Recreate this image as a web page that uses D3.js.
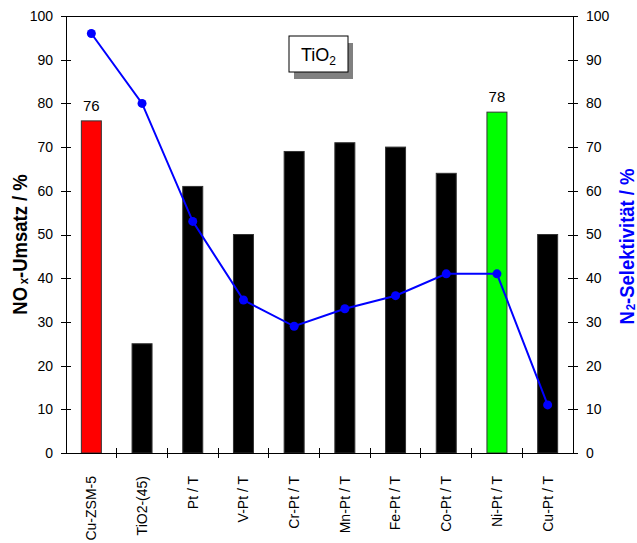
<!DOCTYPE html>
<meta charset="utf-8">
<style>
body { margin: 0; background: #fff; }
text { font-family: "Liberation Sans", Arial, sans-serif; }
.axis path, .axis line { stroke: #000; shape-rendering: crispEdges; }
.line { fill: none; stroke: #0000ff; stroke-width: 2px; }
</style>
<body>
<script src="https://d3js.org/d3.v7.min.js"></script>
<script>

// catalysts and measured values
var catalysts = ["Cu-ZSM-5", "TiO2-(45)", "Pt / T", "V-Pt / T", "Cr-Pt / T",
                 "Mn-Pt / T", "Fe-Pt / T", "Co-Pt / T", "Ni-Pt / T", "Cu-Pt / T"];
var umsatz = [76, 25, 61, 50, 69, 71, 70, 64, 78, 50];        // NOx conversion (bars)
var selektivitaet = [96, 80, 53, 35, 29, 33, 36, 41, 41, 11];  // N2 selectivity (line)
var barColors = ["#ff0000", "#000000", "#000000", "#000000", "#000000",
                 "#000000", "#000000", "#000000", "#00ff00", "#000000"];
var labelled = ["Cu-ZSM-5", "Ni-Pt / T"];
var yTicks = [0, 10, 20, 30, 40, 50, 60, 70, 80, 90, 100];

var margin = {top: 16, right: 64, bottom: 90, left: 66},
    width = 637 - margin.left - margin.right,
    height = 543 - margin.top - margin.bottom;

var svg = d3.select("body").append("svg")
    .attr("width", 637)
    .attr("height", 543)
  .append("g")
    .attr("transform", "translate(" + margin.left + "," + margin.top + ")");

var x = d3.scaleBand().domain(catalysts).range([0, width]);
var y = d3.scaleLinear().domain([0, 100]).range([height, 0]);
var y2 = d3.scaleLinear().domain([0, 100]).range([height, 0]);

var bw = 20;

// bars
svg.selectAll(".bar")
    .data(catalysts)
  .enter().append("rect")
    .attr("x", function(d) { return x(d) + x.bandwidth() / 2 - bw / 2; })
    .attr("y", function(d, i) { return y(umsatz[i]); })
    .attr("width", bw)
    .attr("height", function(d, i) { return height - y(umsatz[i]); })
    .attr("fill", function(d, i) { return barColors[i]; })
    .attr("stroke", "#333")
    .attr("stroke-width", 1);

// value labels on highlighted bars
svg.selectAll(".val")
    .data(labelled)
  .enter().append("text")
    .attr("x", function(d) { return x(d) + x.bandwidth() / 2; })
    .attr("y", function(d) { return y(umsatz[catalysts.indexOf(d)]) - 10; })
    .attr("text-anchor", "middle")
    .style("font-size", "15px")
    .text(function(d) { return umsatz[catalysts.indexOf(d)]; });

// selectivity line
var valueline = d3.line()
    .x(function(d, i) { return x(catalysts[i]) + x.bandwidth() / 2; })
    .y(function(d) { return y2(d); });

svg.append("path")
    .data([selektivitaet])
    .attr("class", "line")
    .attr("d", valueline);

svg.selectAll(".dot")
    .data(selektivitaet)
  .enter().append("circle")
    .attr("cx", function(d, i) { return x(catalysts[i]) + x.bandwidth() / 2; })
    .attr("cy", function(d) { return y2(d); })
    .attr("r", 4.5)
    .attr("fill", "#0000ff");

// left axis
var left = svg.append("g")
    .attr("class", "axis")
    .call(d3.axisLeft(y).tickValues(yTicks).tickSizeOuter(0).tickSize(5).tickPadding(8));
left.selectAll(".tick line").attr("x2", -5).attr("x1", 5);
left.selectAll("text").style("font-size", "14px").attr("fill", "#000");

// right axis
var right = svg.append("g")
    .attr("class", "axis")
    .attr("transform", "translate(" + width + ",0)")
    .call(d3.axisRight(y2).tickValues(yTicks).tickSizeOuter(0).tickSize(5).tickPadding(8));
right.selectAll(".tick line").attr("x1", -5).attr("x2", 5);
right.selectAll("text").style("font-size", "14px").attr("fill", "#000");

// top border line
svg.append("line")
    .attr("x1", 0).attr("x2", width)
    .attr("y1", 0).attr("y2", 0)
    .attr("stroke", "#000")
    .style("shape-rendering", "crispEdges");

// bottom axis: ticks at category boundaries
var bottom = svg.append("g")
    .attr("class", "axis")
    .attr("transform", "translate(0," + height + ")");
bottom.append("line")
    .attr("x1", 0).attr("x2", width)
    .attr("stroke", "#000");
bottom.selectAll(".bt")
    .data(catalysts.slice(1))
  .enter().append("line")
    .attr("x1", function(d) { return x(d); })
    .attr("x2", function(d) { return x(d); })
    .attr("y1", -5).attr("y2", 5)
    .attr("stroke", "#000");
bottom.selectAll(".xl")
    .data(catalysts)
  .enter().append("text")
    .attr("transform", function(d) {
      return "translate(" + (x(d) + x.bandwidth() / 2) + ",23) rotate(-90)";
    })
    .attr("dy", "0.35em")
    .attr("text-anchor", "end")
    .style("font-size", "14px")
    .text(function(d) { return d; });

// y axis titles (slightly condensed, like the original)
var t1 = svg.append("text")
    .attr("transform", "translate(-39," + (height / 2 + 10) + ") rotate(-90) scale(0.88,1)")
    .attr("text-anchor", "middle")
    .style("font-size", "21px")
    .style("font-weight", "bold");
t1.append("tspan").text("NO");
t1.append("tspan").attr("dx", 3).attr("dy", 1).style("font-size", "13px").text("x");
t1.append("tspan").attr("dy", -1).text("-Umsatz / %");

var t2 = svg.append("text")
    .attr("transform", "translate(" + (width + 61) + "," + (height / 2 + 12) + ") rotate(-90) scale(0.88,1)")
    .attr("text-anchor", "middle")
    .attr("fill", "#0000ff")
    .style("font-size", "21px")
    .style("font-weight", "bold");
t2.append("tspan").text("N");
t2.append("tspan").attr("dx", 1).attr("dy", 1).style("font-size", "13px").text("2");
t2.append("tspan").attr("dy", -1).text("-Selektivität / %");

// TiO2 box with shadow
var bx = 223, by = 20, bwid = 59, bh = 36;
svg.append("rect")
    .attr("x", bx + 5).attr("y", by + 7)
    .attr("width", bwid).attr("height", bh)
    .attr("fill", "#808080");
svg.append("rect")
    .attr("x", bx).attr("y", by)
    .attr("width", bwid).attr("height", bh)
    .attr("fill", "#fff")
    .attr("stroke", "#000");
var tb = svg.append("text")
    .attr("x", bx + bwid / 2).attr("y", by + 25)
    .attr("text-anchor", "middle")
    .style("font-size", "18px");
tb.append("tspan").text("TiO");
tb.append("tspan").attr("dy", 4).style("font-size", "12px").text("2");

</script>
</body>
